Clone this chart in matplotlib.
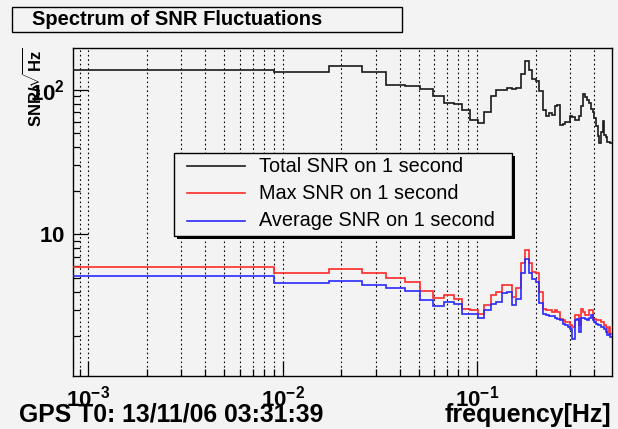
import numpy as np
import matplotlib
matplotlib.use('Agg')
import matplotlib.pyplot as plt
from matplotlib.patches import Rectangle
from matplotlib.lines import Line2D
from matplotlib.ticker import FixedLocator, LogLocator, NullFormatter

plt.rcParams['font.family'] = ['Liberation Sans', 'DejaVu Sans']
plt.rcParams['mathtext.fontset'] = 'custom'
plt.rcParams['mathtext.rm'] = 'Liberation Sans'
plt.rcParams['mathtext.bf'] = 'Liberation Sans:bold'
plt.rcParams['mathtext.it'] = 'Liberation Sans:italic'

# histogram binning: 59 bins of 1/120 Hz
bin_width = 1 / 120
first_edge = 0.00067
n_bins = 59
edges = first_edge + bin_width * np.arange(n_bins + 1)

total_snr = [137.6, 132.6, 146, 132.6, 107.8, 106.6, 101.1, 89.9, 80.4, 79.6,
             72.3, 62.0, 58.4, 69.6, 90.9, 98.9, 98.9, 102.8, 100.5, 102.8,
             128.5, 158.8, 136.1, 118.7, 114.2, 97.3, 71.9, 66.0, 68.9, 67.1,
             77.5, 78.7, 57.2, 58.1, 59.7, 60.0, 65.3, 65.0, 62.0, 62.0,
             65.9, 76.6, 93.8, 88.5, 85.2, 80.9, 73.8, 70.4, 63.7, 55.7,
             47.5, 42.7, 51.2, 61.0, 48.8, 47.2, 43.8, 43.6, 42.9]
max_snr = [5.96, 5.42, 5.72, 5.37, 4.96, 4.65, 4.05, 3.64, 3.80, 3.60,
           3.07, 2.99, 2.83, 3.24, 3.80, 4.00, 4.45, 4.45, 3.69, 4.23,
           6.30, 7.78, 6.30, 5.51, 5.37, 4.00, 3.07, 2.99, 2.99, 2.91,
           3.00, 2.91, 2.62, 2.55, 2.48, 2.48, 2.35, 2.29, 2.76, 2.76,
           2.35, 3.07, 2.91, 2.76, 2.76, 2.99, 2.99, 2.62, 2.62, 2.55,
           2.55, 2.55, 2.48, 2.48, 2.35, 2.29, 2.11, 2.29, 2.06]
avg_snr = [5.19, 4.62, 4.77, 4.45, 4.29, 4.05, 3.54, 3.18, 3.41, 3.29,
           2.83, 2.83, 2.66, 2.99, 3.29, 3.41, 3.94, 3.98, 3.24, 3.60,
           5.37, 6.71, 5.42, 4.88, 4.69, 3.33, 2.83, 2.76, 2.71, 2.71,
           2.66, 2.62, 2.55, 2.42, 2.35, 2.29, 2.23, 1.90, 2.55, 2.62,
           2.11, 2.66, 2.66, 2.62, 2.55, 2.66, 2.76, 2.55, 2.48, 2.42,
           2.35, 2.35, 2.29, 2.29, 2.23, 2.11, 2.02, 2.06, 1.95]

series_labels = ['Total SNR on 1 second', 'Max SNR on 1 second', 'Average SNR on 1 second']
series_colors = ['#1a1a1a', '#ff2a2a', '#2a2aff']

x_major = [1e-3, 1e-2, 1e-1]
x_major_labels = [r'$\mathbf{10^{-3}}$', r'$\mathbf{10^{-2}}$', r'$\mathbf{10^{-1}}$']
y_major = [10, 100]
y_major_labels = [r'$\mathbf{10}$', r'$\mathbf{10^{2}}$']

W, H = 618, 429
bg = '#f3f3f3'


def fx(x):
    return x / W


def fy(y):
    return 1 - y / H


fig = plt.figure(figsize=(W / 100, H / 100), dpi=100, facecolor=bg)
ax = fig.add_axes([fx(72.7), fy(376), (611.7 - 72.7) / W, (376 - 47.7) / H])
ax.set_facecolor(bg)

for vals, col in zip([total_snr, max_snr, avg_snr], series_colors):
    ax.stairs(vals, edges, color=col, lw=1.2, baseline=None, zorder=3)

ax.set_xscale('log')
ax.set_yscale('log')
ax.set_xlim(8.3e-4, edges[-1])
ax.set_ylim(1.05, 195)

ax.xaxis.set_major_locator(FixedLocator(x_major))
ax.set_xticklabels(x_major_labels)
ax.xaxis.set_minor_locator(LogLocator(base=10, subs=np.arange(2, 10), numticks=30))
ax.xaxis.set_minor_formatter(NullFormatter())
ax.yaxis.set_major_locator(FixedLocator(y_major))
ax.set_yticklabels(y_major_labels)
ax.yaxis.set_minor_locator(LogLocator(base=10, subs=np.arange(2, 10), numticks=30))
ax.yaxis.set_minor_formatter(NullFormatter())

ax.tick_params(which='both', direction='in', top=False, right=False, color='k', width=0.9)
ax.tick_params(which='major', length=11)
ax.tick_params(which='minor', length=5)
ax.tick_params(axis='x', which='major', labelsize=16, pad=7)
ax.tick_params(axis='y', which='major', labelsize=16, pad=5.5)
ax.grid(True, which='both', axis='x', linestyle=(0, (1.5, 2.5)), color='k', lw=0.8)
for s in ax.spines.values():
    s.set_linewidth(1.0)

# legend box drawn by hand to match ROOT layout
lx0, lx1, ly0, ly1 = 174, 511.7, 152.7, 236
fig.add_artist(Rectangle((fx(lx0 + 3), fy(ly1 + 3)), (lx1 - lx0) / W, (ly1 - ly0) / H,
                         transform=fig.transFigure, facecolor='k', edgecolor='none', zorder=5))
fig.add_artist(Rectangle((fx(lx0), fy(ly1)), (lx1 - lx0) / W, (ly1 - ly0) / H,
                         transform=fig.transFigure, facecolor=bg, edgecolor='k', lw=1.0, zorder=6))
for i, (lab, col) in enumerate(zip(series_labels, series_colors)):
    yy = 166 + i * 27.35
    fig.add_artist(Line2D([fx(186.7), fx(245)], [fy(yy), fy(yy)], color=col, lw=1.2,
                          transform=fig.transFigure, zorder=7))
    fig.text(fx(259.3), fy(yy), lab, fontsize=14.3, ha='left', va='center', zorder=7)

# title box
fig.add_artist(Rectangle((fx(13.5), fy(33.2)), 389.7 / W, 24.4 / H,
                         transform=fig.transFigure, facecolor='#333333', edgecolor='none'))
fig.add_artist(Rectangle((fx(12), fy(31.7)), 389.7 / W, 24.4 / H,
                         transform=fig.transFigure, facecolor=bg, edgecolor='k', lw=1.0))
fig.text(fx(31.7), fy(19.5), 'Spectrum of SNR Fluctuations', fontsize=14.5,
         fontweight='bold', ha='left', va='center')

fig.text(fx(33.5), fy(47), r'$\mathbf{SNR/\sqrt{Hz}}$', rotation=90,
         ha='center', va='top', fontsize=12)
fig.text(fx(19), fy(421.7), 'GPS T0: 13/11/06 03:31:39', fontsize=17.8,
         fontweight='bold', ha='left', va='baseline')
fig.text(fx(611.7), fy(421.7), 'frequency[Hz]', fontsize=18,
         fontweight='bold', ha='right', va='baseline')

fig.savefig('out.png', dpi=100, facecolor=bg)
